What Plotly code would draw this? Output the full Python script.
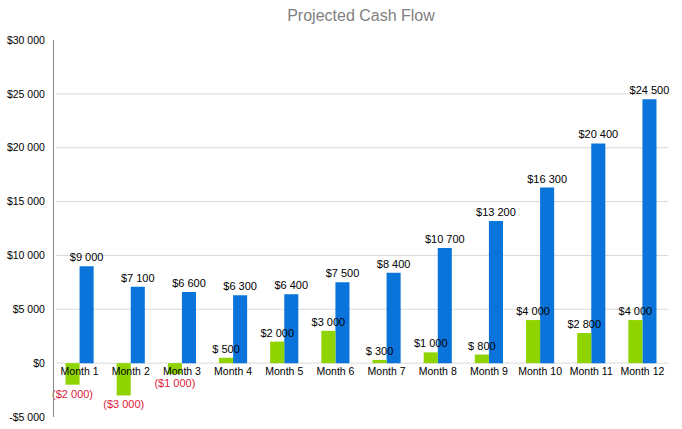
import plotly.graph_objects as go

months = [f"Month {i}" for i in range(1, 13)]
green_vals = [-2000, -3000, -1000, 500, 2000, 3000, 300, 1000, 800, 4000, 2800, 4000]
blue_vals = [9000, 7100, 6600, 6300, 6400, 7500, 8400, 10700, 13200, 16300, 20400, 24500]
tick_vals = [-5000, 0, 5000, 10000, 15000, 20000, 25000, 30000]
tick_text = ["-$5 000", "$0", "$5 000", "$10 000", "$15 000", "$20 000", "$25 000", "$30 000"]


def fmt(v):
    s = f"{abs(v):,}".replace(",", " ")
    if abs(v) < 1000:
        s = " " + s
    return f"(${s})" if v < 0 else f"${s}"


green_text = [fmt(v) for v in green_vals]
blue_text = [fmt(v) for v in blue_vals]
green_colors = ["#e0203a" if v < 0 else "#000000" for v in green_vals]

FONT = "Liberation Sans, Arial"
BAR_W = 0.275

fig = go.Figure()
# blue first so that the green labels are drawn on top of the blue bars
fig.add_trace(go.Bar(
    x=months, y=blue_vals, marker_color="#0a74da", marker_line_width=0,
    offset=0, width=BAR_W,
    text=blue_text, textposition="outside", constraintext="none",
    textfont=dict(color="#000000", size=11, family=FONT),
    cliponaxis=False, name="Blue",
))
fig.add_trace(go.Bar(
    x=months, y=green_vals, marker_color="#8fd400", marker_line_width=0,
    offset=-BAR_W, width=BAR_W,
    text=green_text, textposition="outside", constraintext="none",
    textfont=dict(color=green_colors, size=11, family=FONT),
    cliponaxis=False, name="Green",
))

ymin, ymax = -5000, 30000
shapes = []
for t in tick_vals[1:-1]:
    shapes.append(dict(type="line", xref="paper", x0=0.003, x1=1, yref="y", y0=t, y1=t,
                       line=dict(color="#d9d9d9", width=1), layer="below"))

fig.update_layout(
    width=682, height=429,
    margin=dict(l=54, r=14, t=40, b=12),
    paper_bgcolor="white", plot_bgcolor="white",
    title=dict(text="Projected Cash Flow", x=0.5, xanchor="center", y=0.965, yanchor="middle",
               xref="paper",
               font=dict(family=FONT, size=16, color="#808080")),
    barmode="overlay",
    showlegend=False,
    shapes=shapes,
    xaxis=dict(anchor="free", position=(0 - ymin) / (ymax - ymin), showline=False,
               ticks="", tickangle=0, automargin=False,
               tickfont=dict(family=FONT, size=10.5, color="#000000"),
               showgrid=False),
    yaxis=dict(range=[ymin, ymax], tickvals=tick_vals, ticktext=tick_text, showgrid=False,
               zeroline=False, showline=True, linecolor="#888888", linewidth=1,
               ticks="", automargin=False, ticklabelstandoff=6,
               tickfont=dict(family=FONT, size=10.5, color="#000000")),
)

fig.write_html(
    "out.html",
    config={"displayModeBar": False},
    post_script="document.body.style.margin='0';document.body.style.overflow='hidden';",
)
